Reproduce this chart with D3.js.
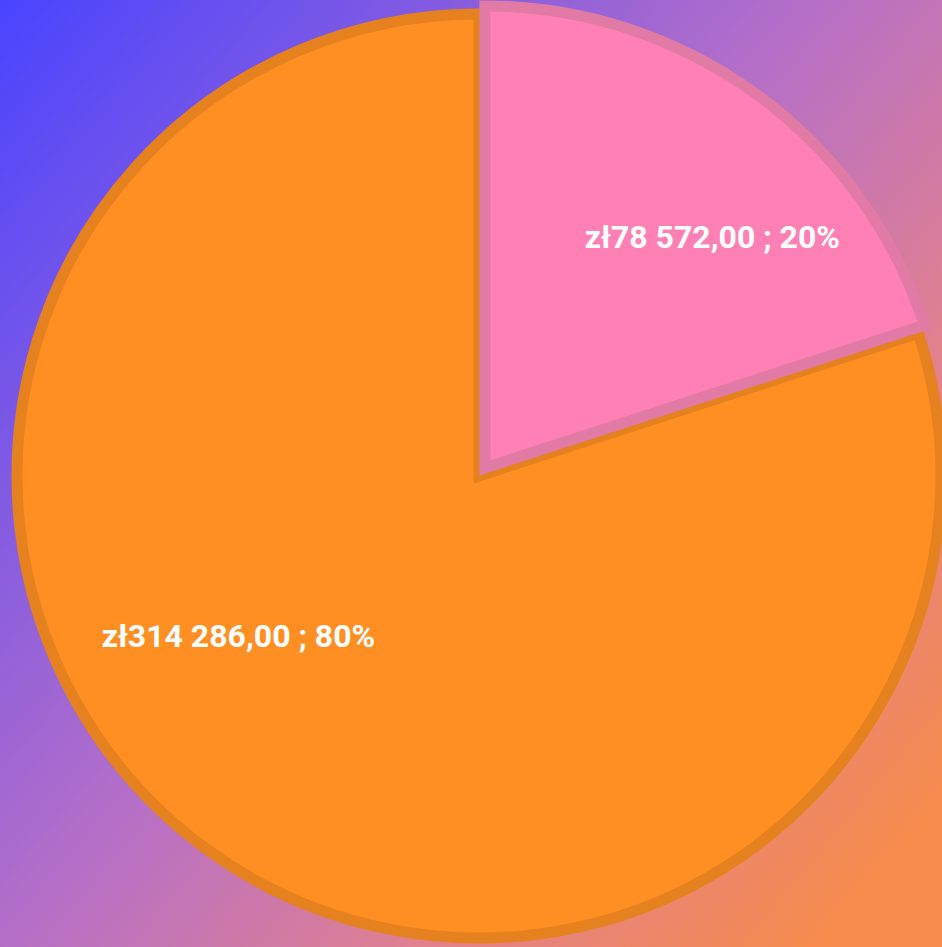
<!DOCTYPE html>
<html><head><meta charset="utf-8">
<script src="https://cdn.jsdelivr.net/npm/d3@7/dist/d3.min.js"></script>
<style>html,body{margin:0;padding:0;overflow:hidden;background:#fff}</style>
</head><body><svg id="c" width="942" height="947"></svg>
<script>
const categories = ["Pink", "Orange"];
const values = [78572, 314286];
const labels = ["zł78 572,00 ; 20%", "zł314 286,00 ; 80%"];
const fills = ["#ff80b4", "#ff8f22"];
const strokes = ["#e27aa6", "#e5811f"];

const W = 942, H = 947;
const svg = d3.select("#c");
const defs = svg.append("defs");
const g = defs.append("linearGradient").attr("id","bg")
  .attr("gradientUnits","userSpaceOnUse").attr("x1",0).attr("y1",0).attr("x2",W).attr("y2",H*0.85);
g.append("stop").attr("offset","0").attr("stop-color","#4944ff");
g.append("stop").attr("offset","0.5").attr("stop-color","#b56fc8");
g.append("stop").attr("offset","0.75").attr("stop-color","#e08090");
g.append("stop").attr("offset","1").attr("stop-color","#f78c4c");
svg.append("rect").attr("width",W).attr("height",H).attr("fill","url(#bg)");

const R = 462;
const cx = 479, cy = 476;
const explode = [10, 0];
const pie = d3.pie().sort(null).value(d => d)(values);
const arc = d3.arc().innerRadius(0).outerRadius(R);
const labelArc = d3.arc().innerRadius(R*0.65).outerRadius(R*0.65);
const labelShift = [[51, 12], [-64, -83]];

const order = [1, 0];
order.forEach(i => {
  const p = pie[i];
  const mid = (p.startAngle + p.endAngle) / 2;
  const ox = Math.sin(mid) * explode[i], oy = -Math.cos(mid) * explode[i];
  const gg = svg.append("g").attr("transform", `translate(${cx+ox},${cy+oy})`);
  gg.append("path").attr("d", arc(p)).attr("fill", fills[i])
    .attr("stroke", strokes[i]).attr("stroke-width", 11).attr("stroke-linejoin","miter");
});
order.forEach(i => {
  const p = pie[i];
  const mid = (p.startAngle + p.endAngle) / 2;
  const ox = Math.sin(mid) * explode[i], oy = -Math.cos(mid) * explode[i];
  const c = labelArc.centroid(p);
  svg.append("text")
    .attr("x", cx + ox + c[0] + labelShift[i][0])
    .attr("y", cy + oy + c[1] + labelShift[i][1])
    .attr("text-anchor","middle").attr("dominant-baseline","central")
    .attr("fill","#fff").attr("font-family","Roboto, sans-serif")
    .attr("font-weight","700").attr("font-size","32px")
    .text(labels[i]);
});
</script></body></html>
